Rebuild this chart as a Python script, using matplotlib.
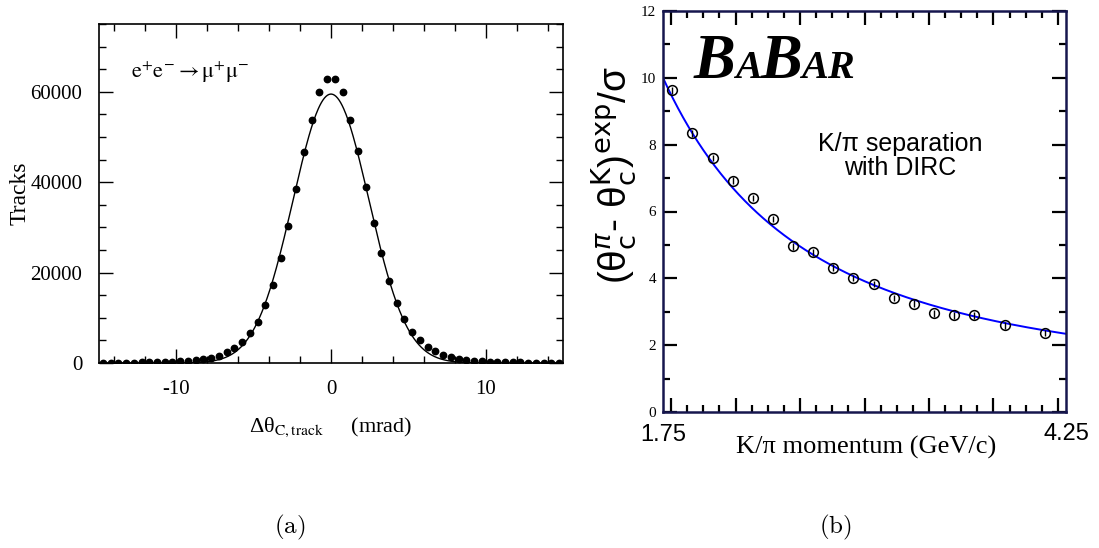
import matplotlib
matplotlib.use('Agg')
import matplotlib.pyplot as plt
import numpy as np
from matplotlib.ticker import MultipleLocator, FixedLocator

plt.rcParams['font.family'] = 'Liberation Serif'
plt.rcParams['mathtext.fontset'] = 'stix'
plt.rcParams['axes.unicode_minus'] = False

# (a) Cherenkov angle residual for e+e- -> mu+mu- tracks
dtheta = np.arange(-14.75, 15.0, 0.5)
tracks = [70, 80, 90, 100, 110, 130, 150, 180, 220, 280,
          360, 480, 650, 880, 1170, 1620, 2350, 3230, 4700, 6610,
          9110, 12930, 17190, 23280, 30260, 38560, 46710, 53760, 59930, 62870,
          62870, 59930, 53760, 46850, 38850, 30990, 24380, 18070, 13220, 9840,
          6900, 4990, 3530, 2640, 1760, 1320, 880, 650, 480, 370,
          290, 230, 180, 150, 130, 110, 100, 90, 80, 70]
gaus_amp = 59500.0
gaus_sigma = 2.45

# (b) K/pi separation vs momentum
momentum = [1.806, 1.932, 2.058, 2.184, 2.310, 2.434, 2.556, 2.683, 2.805,
            2.930, 3.057, 3.183, 3.307, 3.431, 3.555, 3.681, 3.870, 4.120]
separation = [9.63, 8.34, 7.60, 6.92, 6.40, 5.78, 4.96, 4.78, 4.32,
              4.01, 3.83, 3.41, 3.24, 2.95, 2.89, 2.89, 2.59, 2.36]
sep_err = 0.1
fit_a = 0.776
fit_b = 28.25

W, H = 1099, 548
fig = plt.figure(figsize=(W / 100, H / 100), dpi=100)

# ---------- panel (a)
ax1 = fig.add_axes([99 / W, 1 - 363 / H, 464 / W, 339 / H])
xx = np.linspace(-15, 15, 600)
ax1.plot(xx, gaus_amp * np.exp(-xx ** 2 / (2 * gaus_sigma ** 2)), color='black', lw=1.0)
ax1.plot(dtheta, tracks, 'o', color='black', ms=4.6)
ax1.set_xlim(-15, 15)
ax1.set_ylim(0, 75000)
ax1.set_xticks([-10, 0, 10])
ax1.xaxis.set_minor_locator(MultipleLocator(2))
ax1.set_yticks([0, 20000, 40000, 60000])
ax1.yaxis.set_minor_locator(MultipleLocator(5000))
ax1.tick_params(which='both', direction='in', top=True, right=True, width=1.0, labelsize=15, pad=12)
ax1.tick_params(which='major', length=10)
ax1.tick_params(which='minor', length=5)
for sp in ax1.spines.values():
    sp.set_linewidth(1.2)
ax1.set_ylabel('Tracks', fontsize=17)
ax1.yaxis.set_label_coords(-68 / 464, 0.5)
ax1.set_xlabel('Δθ$_{\\mathrm{C,track}}$     (mrad)', fontsize=16, labelpad=12)
ax1.text(0.07, 0.84, r'$\mathrm{e^{+}e^{-}\rightarrow\mu^{+}\mu^{-}}$', transform=ax1.transAxes,
         fontsize=16)

# ---------- panel (b)
navy = '#16164e'
ax2 = fig.add_axes([663 / W, 1 - 412 / H, 403 / W, 401 / H])
pp = np.linspace(1.75, 4.25, 400)
ax2.plot(pp, fit_a + fit_b / pp ** 2, color='#0000ff', lw=1.4, zorder=2)
ax2.errorbar(momentum, separation, yerr=sep_err, fmt='o', mfc='none', mec='black', ecolor='black',
             ms=7, mew=1.1, elinewidth=1.0, capsize=0, zorder=3)
ax2.set_xlim(1.75, 4.25)
ax2.set_ylim(0, 12)
ax2.xaxis.set_major_locator(FixedLocator(np.arange(1.8, 4.25, 0.4)))
ax2.xaxis.set_minor_locator(FixedLocator(np.arange(1.8, 4.25, 0.1)))
ax2.set_xticklabels([])
ax2.set_yticks(np.arange(0, 13, 2))
ax2.yaxis.set_minor_locator(MultipleLocator(1))
ax2.tick_params(which='both', direction='in', top=True, right=True, width=1.6, labelsize=11, pad=5)
ax2.tick_params(which='major', length=10)
ax2.tick_params(which='minor', length=5)
for sp in ax2.spines.values():
    sp.set_linewidth(1.8)
    sp.set_color(navy)

trans = ax2.get_xaxis_transform()
ax2.text(1.75, -0.058, '1.75', transform=trans, ha='center', va='center', fontsize=17,
         family='Liberation Sans')
ax2.text(4.25, -0.055, '4.25', transform=trans, ha='center', va='center', fontsize=17,
         family='Liberation Sans')
fig.text(866 / W, 1 - 447 / H, 'K/π momentum (GeV/c)', ha='center', va='center', fontsize=19)

fig.text(614 / W, 1 - 175 / H,
         '(θ$_\\mathsf{c}^{\\pi}$- θ$_\\mathsf{c}^{\\mathsf{K}}$)$^{\\mathrm{exp}}$/σ',
         rotation=90, ha='center', va='center', fontsize=28, family='Liberation Sans',
         math_fontfamily='dejavusans')

fig.text(900 / W, 1 - 156 / H, 'K/π separation\nwith DIRC', ha='center', va='center',
         fontsize=18, family='Liberation Sans', linespacing=1.0)

# BABAR logo in bold italic with small caps
fig.canvas.draw()
renderer = fig.canvas.get_renderer()
xpos = 694
for s, size in [('B', 45), ('A', 29), ('B', 45), ('AR', 29)]:
    t = fig.text(xpos / W, 1 - 78 / H, s, fontsize=size, fontweight='bold', fontstyle='italic',
                 family='Liberation Serif', va='baseline')
    xpos += t.get_window_extent(renderer).width - 1

fig.text(290 / W, 1 - 527 / H, r'$\mathrm{(a)}$', ha='center', va='center', fontsize=18,
         math_fontfamily='cm')
fig.text(835 / W, 1 - 527 / H, r'$\mathrm{(b)}$', ha='center', va='center', fontsize=18,
         math_fontfamily='cm')

fig.savefig('out.png', dpi=100)
